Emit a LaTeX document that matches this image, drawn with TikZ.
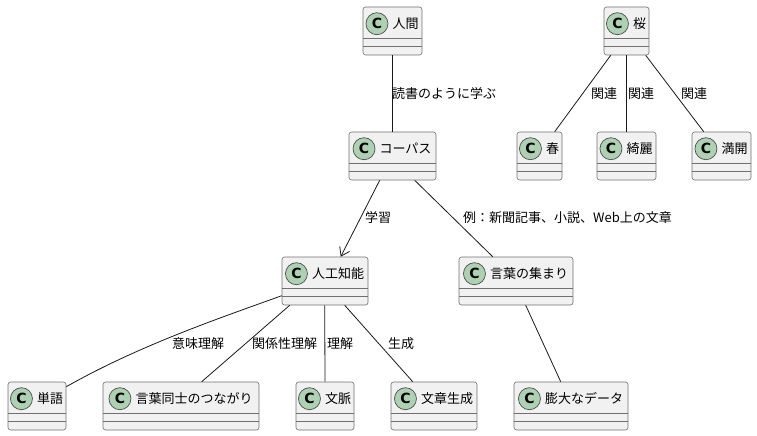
\documentclass[tikz,border=0pt]{standalone}
\usepackage{fontspec}
\setmainfont{Noto Sans CJK JP}
\newfontfamily\cfont{DejaVu Sans}
\usetikzlibrary{arrows.meta}
\definecolor{boxfill}{HTML}{F1F1F1}
\definecolor{boxline}{HTML}{707070}
\definecolor{lineclr}{HTML}{181818}
\definecolor{circfill}{HTML}{ADD1B2}
\tikzset{
  clsbox/.style={draw=boxline, fill=boxfill, rounded corners=2.5pt, minimum height=48pt, inner sep=0pt, line width=0.6pt},
  sepline/.style={draw=boxline, line width=0.6pt},
  clstext/.style={font=\fontsize{13}{15}\selectfont, inner sep=0pt, anchor=center},
  spot/.style={circle, draw=boxline!70!black, fill=circfill, minimum size=22pt, inner sep=0pt, font=\cfont\bfseries\fontsize{14}{16}\selectfont, line width=0.7pt},
  conn/.style={draw=lineclr, line width=0.8pt},
  lbl/.style={font=\fontsize{13}{15}\selectfont, inner sep=0pt, anchor=west},
}
% name, left, top, width, text
\newcommand\umlcls[5]{%
  \node[clsbox, minimum width=#4pt] (#1) at ({#2+#4/2},{#3+24}) {};
  \draw[sepline] ([yshift=-32pt]#1.north west) -- ([yshift=-32pt]#1.north east);
  \draw[sepline] ([yshift=-40pt]#1.north west) -- ([yshift=-40pt]#1.north east);
  \node[clstext] (#1-t) at ([yshift=-17pt,xshift=13pt]#1.north) {#5};
  \node[spot, anchor=east] (#1-c) at ([xshift=-4pt]#1-t.west) {C};
}
\begin{document}
\begin{tikzpicture}[x=1pt,y=-1pt]
\useasboundingbox (0,0) rectangle (757,436);
% row 1
\umlcls{hum}{363}{7}{59}{人間}
\umlcls{sak}{604}{7}{45}{桜}
% row 2
\umlcls{corp}{349}{132}{87}{コーパス}
\umlcls{haru}{517}{132}{45}{春}
\umlcls{kirei}{597}{132}{59}{綺麗}
\umlcls{mank}{692}{132}{59}{満開}
% row 3
\umlcls{ai}{282}{257}{86}{人工知能}
\umlcls{atsu}{459}{257}{114}{言葉の集まり}
% row 4
\umlcls{tango}{8}{382}{58}{単語}
\umlcls{tsuna}{103}{382}{156}{言葉同士のつながり}
\umlcls{bunm}{296}{382}{58}{文脈}
\umlcls{seis}{391}{382}{86}{文章生成}
\umlcls{data}{514}{382}{114}{膨大なデータ}
% connectors
\draw[conn] (hum.south) -- (corp.north);
\node[lbl] (l1) at (392,94) {読書のように学ぶ};
\draw[conn, -{Straight Barb[length=8pt,width=11pt]}] ([xshift=31pt]corp.south west) -- ([xshift=59pt]ai.north west);
\node[lbl] (l2) at (365,218) {学習};
\draw[conn] ([xshift=66pt]corp.south west) -- ([xshift=34pt]atsu.north west);
\node[lbl] (l3) at (463,218) {例：新聞記事、小説、Web上の文章};
\draw[conn] ([xshift=7pt]sak.south west) -- ([xshift=38pt]haru.north west);
\node[lbl] (l4) at (591,94) {関連};
\draw[conn] (sak.south) -- (kirei.north);
\node[lbl] (l5) at (628,94) {関連};
\draw[conn] ([xshift=42pt]sak.south west) -- ([xshift=12pt]mank.north west);
\node[lbl] (l6) at (681,94) {関連};
\draw[conn] ([yshift=-39pt]ai.north west) .. controls (220,318) and (140,345) .. ([yshift=-5pt]tango.north east);
\node[lbl] (l7) at (172,344) {意味理解};
\draw[conn] ([xshift=8pt]ai.south west) -- ([xshift=99pt]tsuna.north west);
\node[lbl] (l8) at (252,344) {関係性理解};
\draw[conn] ([xshift=43pt]ai.south west) -- (bunm.north);
\node[lbl] (l9) at (327,344) {理解};
\draw[conn] ([xshift=63pt]ai.south west) -- ([xshift=22pt]seis.north west);
\node[lbl] (l10) at (388,344) {生成};
\draw[conn] ([xshift=67pt]atsu.south west) -- ([xshift=47pt]data.north west);
\end{tikzpicture}
\end{document}
